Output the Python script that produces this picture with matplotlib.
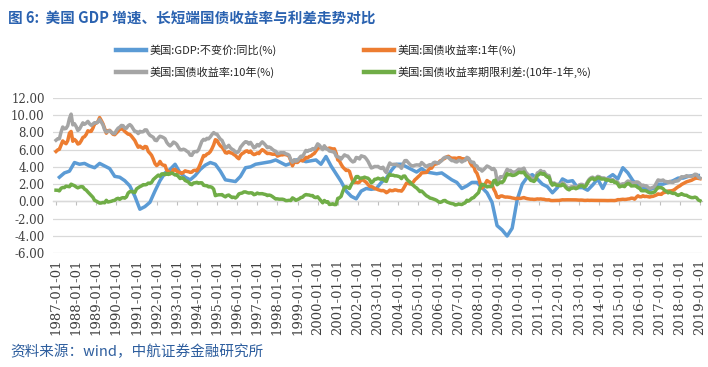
import matplotlib
matplotlib.use("Agg")
import matplotlib.pyplot as plt
import numpy as np
from matplotlib.lines import Line2D
from matplotlib.ticker import FuncFormatter

plt.rcParams["font.family"] = ["DejaVu Serif"]

# ---------------- data ----------------
years = list(range(1987, 2020))
tick_labels = [f"{y}-01-01" for y in years]

# US real GDP YoY (%), quarterly, plotted at quarter-end months (Mar 1987 ... Dec 2018)
gdp_yoy = [
    2.8, 3.3, 3.5, 4.5,   4.3, 4.4, 4.1, 3.9,   4.4, 4.1, 3.8, 2.9,   2.8, 2.4, 1.8, 0.6,
    -0.9, -0.6, -0.1, 1.2, 2.4, 3.3, 3.7, 4.3,  3.3, 2.8, 2.5, 3.0,   3.7, 4.2, 4.5, 4.3,
    3.5, 2.5, 2.4, 2.3,   2.9, 3.9, 4.0, 4.3,   4.4, 4.5, 4.6, 4.8,   4.5, 4.2, 4.4, 4.8,
    4.8, 4.6, 4.7, 4.8,   4.3, 5.2, 4.1, 3.2,   2.3, 1.2, 0.6, 0.3,   1.2, 1.5, 1.4, 1.5,
    2.2, 2.7, 3.6, 4.3,   4.3, 4.0, 3.7, 3.4,   3.8, 3.4, 3.3, 3.2,   3.3, 2.9, 2.5, 2.2,
    1.5, 1.8, 2.2, 2.2,   1.6, 1.0, -0.1, -2.8, -3.3, -4.0, -3.1, 0.2, 2.0, 2.8, 3.1, 2.6,
    2.0, 1.7, 1.0, 1.6,   2.6, 2.3, 2.4, 1.6,   1.6, 1.3, 1.9, 2.6,   1.5, 2.7, 3.1, 2.6,
    3.9, 3.3, 2.4, 1.9,   1.6, 1.3, 1.5, 2.0,   2.0, 2.2, 2.4, 2.7,   2.7, 2.9, 3.0, 3.0,
]

# US Treasury 1Y yield (%), monthly Jan 1987 ... Jan 2019
ust_1y = [
    5.78, 5.96, 6.03, 6.50, 7.00, 6.80, 6.68, 7.03, 7.90, 8.10, 6.96, 7.17,
    6.99, 6.64, 6.71, 7.01, 7.40, 7.49, 7.75, 8.17, 8.09, 8.11, 8.48, 8.99,
    9.05, 9.25, 9.70, 9.36, 8.98, 8.44, 7.89, 8.18, 8.22, 7.99, 7.77, 7.72,
    7.92, 8.11, 8.35, 8.40, 8.32, 8.10, 7.94, 7.78, 7.76, 7.55, 7.31, 7.05,
    6.64, 6.27, 6.40, 6.24, 6.13, 6.36, 6.31, 5.78, 5.57, 5.33, 4.89, 4.38,
    4.15, 4.29, 4.63, 4.30, 4.19, 4.17, 3.60, 3.47, 3.18, 3.30, 3.68, 3.71,
    3.50, 3.39, 3.33, 3.24, 3.36, 3.54, 3.47, 3.44, 3.36, 3.39, 3.58, 3.61,
    3.54, 3.87, 4.32, 4.82, 5.31, 5.27, 5.48, 5.56, 5.76, 6.11, 6.54, 7.14,
    7.05, 6.70, 6.43, 6.27, 6.00, 5.64, 5.59, 5.75, 5.62, 5.59, 5.43, 5.31,
    5.09, 4.94, 5.34, 5.54, 5.64, 5.81, 5.85, 5.67, 5.83, 5.55, 5.42, 5.47,
    5.61, 5.53, 5.80, 5.99, 5.87, 5.69, 5.54, 5.56, 5.52, 5.46, 5.46, 5.53,
    5.24, 5.31, 5.39, 5.38, 5.44, 5.41, 5.36, 5.21, 4.71, 4.12, 4.53, 4.52,
    4.51, 4.70, 4.78, 4.69, 4.85, 5.10, 5.03, 5.20, 5.25, 5.43, 5.55, 5.84,
    6.12, 6.22, 6.22, 6.15, 6.33, 6.17, 6.08, 6.18, 6.13, 6.01, 6.09, 5.60,
    4.81, 4.68, 4.30, 3.98, 3.78, 3.58, 3.62, 3.47, 2.82, 2.33, 2.18, 2.22,
    2.16, 2.23, 2.57, 2.48, 2.35, 2.20, 1.96, 1.76, 1.72, 1.65, 1.49, 1.45,
    1.36, 1.30, 1.24, 1.27, 1.18, 1.01, 1.12, 1.31, 1.24, 1.25, 1.34, 1.31,
    1.24, 1.24, 1.19, 1.43, 1.78, 2.12, 2.10, 2.02, 2.12, 2.23, 2.50, 2.67,
    2.86, 3.03, 3.30, 3.32, 3.33, 3.36, 3.64, 3.87, 3.85, 4.18, 4.33, 4.35,
    4.45, 4.68, 4.77, 4.90, 5.00, 5.16, 5.22, 5.08, 4.97, 5.01, 5.01, 4.94,
    5.06, 5.05, 4.92, 4.93, 4.91, 4.96, 4.96, 4.47, 4.14, 4.10, 3.50, 3.26,
    2.71, 2.05, 1.54, 1.74, 2.06, 2.42, 2.28, 2.18, 1.91, 1.42, 1.07, 0.49,
    0.44, 0.62, 0.64, 0.55, 0.50, 0.51, 0.48, 0.46, 0.40, 0.37, 0.31, 0.37,
    0.35, 0.35, 0.40, 0.45, 0.37, 0.32, 0.29, 0.26, 0.26, 0.23, 0.25, 0.29,
    0.27, 0.29, 0.26, 0.25, 0.19, 0.18, 0.19, 0.11, 0.10, 0.11, 0.11, 0.12,
    0.12, 0.16, 0.19, 0.18, 0.19, 0.19, 0.19, 0.18, 0.18, 0.18, 0.18, 0.16,
    0.15, 0.16, 0.15, 0.12, 0.12, 0.14, 0.12, 0.13, 0.12, 0.12, 0.12, 0.13,
    0.12, 0.12, 0.13, 0.11, 0.10, 0.10, 0.11, 0.11, 0.11, 0.10, 0.13, 0.21,
    0.20, 0.22, 0.25, 0.23, 0.24, 0.28, 0.30, 0.38, 0.37, 0.26, 0.48, 0.65,
    0.54, 0.53, 0.66, 0.56, 0.59, 0.55, 0.51, 0.57, 0.59, 0.66, 0.74, 0.87,
    0.83, 0.82, 1.01, 1.04, 1.12, 1.20, 1.22, 1.23, 1.28, 1.40, 1.56, 1.70,
    1.80, 1.96, 2.06, 2.15, 2.27, 2.33, 2.39, 2.45, 2.56, 2.65, 2.70, 2.66,
    2.63,
]

# US Treasury 10Y yield (%), monthly Jan 1987 ... Jan 2019
ust_10y = [
    7.08, 7.25, 7.25, 8.02, 8.61, 8.40, 8.45, 8.76, 9.60, 10.10, 8.86, 8.99,
    8.67, 8.21, 8.37, 8.72, 9.09, 8.92, 9.06, 9.26, 8.98, 8.80, 8.96, 9.11,
    9.09, 9.17, 9.50, 9.18, 8.86, 8.28, 8.02, 8.11, 8.19, 8.01, 7.87, 7.84,
    8.21, 8.47, 8.59, 8.79, 8.76, 8.48, 8.47, 8.75, 8.89, 8.72, 8.39, 8.08,
    8.09, 7.85, 8.11, 8.04, 8.07, 8.28, 8.27, 7.90, 7.65, 7.53, 7.42, 7.09,
    7.03, 7.34, 7.54, 7.48, 7.39, 7.26, 6.84, 6.59, 6.42, 6.59, 6.87, 6.77,
    6.60, 6.26, 5.98, 5.97, 6.04, 5.96, 5.81, 5.68, 5.36, 5.33, 5.72, 5.77,
    5.75, 5.97, 6.48, 6.97, 7.18, 7.10, 7.30, 7.24, 7.46, 7.74, 7.96, 7.81,
    7.78, 7.47, 7.20, 7.06, 6.63, 6.17, 6.28, 6.49, 6.20, 6.04, 5.93, 5.71,
    5.65, 5.81, 6.27, 6.51, 6.74, 6.91, 6.87, 6.64, 6.83, 6.53, 6.20, 6.30,
    6.58, 6.42, 6.69, 6.89, 6.71, 6.49, 6.22, 6.30, 6.21, 6.03, 5.88, 5.81,
    5.54, 5.57, 5.65, 5.64, 5.65, 5.50, 5.46, 5.34, 4.81, 4.53, 4.83, 4.65,
    4.72, 5.00, 5.23, 5.18, 5.54, 5.90, 5.79, 5.94, 5.92, 6.11, 6.03, 6.28,
    6.66, 6.52, 6.26, 5.99, 6.44, 6.10, 6.05, 5.83, 5.80, 5.74, 5.72, 5.24,
    5.16, 5.10, 4.89, 5.14, 5.39, 5.28, 5.24, 4.97, 4.73, 4.57, 4.65, 5.09,
    5.04, 4.91, 5.28, 5.21, 5.16, 4.93, 4.65, 4.26, 3.87, 3.94, 4.05, 4.03,
    4.05, 3.90, 3.81, 3.96, 3.57, 3.33, 3.98, 4.45, 4.27, 4.29, 4.30, 4.27,
    4.15, 4.08, 3.83, 4.35, 4.72, 4.73, 4.50, 4.28, 4.13, 4.10, 4.19, 4.23,
    4.22, 4.17, 4.50, 4.34, 4.14, 4.00, 4.18, 4.26, 4.20, 4.46, 4.54, 4.47,
    4.42, 4.57, 4.72, 4.99, 5.11, 5.11, 5.09, 4.88, 4.72, 4.73, 4.60, 4.56,
    4.76, 4.72, 4.56, 4.69, 4.75, 5.10, 5.00, 4.67, 4.52, 4.53, 4.15, 4.10,
    3.74, 3.74, 3.51, 3.68, 3.88, 4.10, 4.01, 3.89, 3.69, 3.81, 3.53, 2.42,
    2.52, 2.87, 2.82, 2.93, 3.29, 3.72, 3.56, 3.59, 3.40, 3.39, 3.40, 3.59,
    3.73, 3.69, 3.73, 3.85, 3.42, 3.20, 3.01, 2.70, 2.65, 2.54, 2.76, 3.29,
    3.39, 3.58, 3.41, 3.46, 3.17, 3.00, 3.00, 2.30, 1.98, 2.15, 2.01, 1.98,
    1.97, 1.97, 2.17, 2.05, 1.80, 1.62, 1.53, 1.68, 1.72, 1.75, 1.65, 1.72,
    1.91, 1.98, 1.96, 1.76, 1.93, 2.30, 2.58, 2.74, 2.81, 2.62, 2.72, 2.90,
    2.86, 2.71, 2.72, 2.71, 2.56, 2.60, 2.54, 2.42, 2.53, 2.30, 2.33, 2.21,
    1.88, 1.98, 2.04, 1.94, 2.20, 2.36, 2.32, 2.17, 2.17, 2.07, 2.26, 2.24,
    2.09, 1.78, 1.89, 1.81, 1.81, 1.64, 1.50, 1.56, 1.63, 1.76, 2.14, 2.49,
    2.43, 2.42, 2.48, 2.30, 2.30, 2.19, 2.32, 2.21, 2.20, 2.36, 2.35, 2.40,
    2.58, 2.86, 2.84, 2.87, 2.98, 2.91, 2.89, 2.89, 3.00, 3.15, 3.12, 2.83,
    2.71,
]

# term spread as defined in the legend: 10Y - 1Y
spread = np.round(np.array(ust_10y) - np.array(ust_1y), 2)

labels = ["美国:GDP:不变价:同比(%)", "美国:国债收益率:1年(%)",
          "美国:国债收益率:10年(%)", "美国:国债收益率期限利差:(10年-1年,%)"]
colors = ["#5B9BD5", "#ED7D31", "#A5A5A5", "#70AD47"]

CJK = ["Noto Sans CJK SC", "DejaVu Sans"]

# ---------------- figure ----------------
W, H = 708, 367
fig = plt.figure(figsize=(W / 100, H / 100), dpi=100)
left, right, top, bottom = 53, 702, 97.7, 253.3
ax = fig.add_axes([left / W, 1 - bottom / H, (right - left) / W, (bottom - top) / H])

n = len(ust_10y)
xm = np.arange(n)
xq = np.arange(2, n, 3)[:len(gdp_yoy)]

lw = 2.5
ax.plot(xq, gdp_yoy, color=colors[0], lw=lw, solid_joinstyle="round", zorder=3)
ax.plot(xm, ust_1y, color=colors[1], lw=lw, solid_joinstyle="round", zorder=4)
ax.plot(xm, ust_10y, color=colors[2], lw=lw, solid_joinstyle="round", zorder=5)
ax.plot(xm, spread, color=colors[3], lw=lw, solid_joinstyle="round", zorder=6)

ax.set_ylim(-6, 12)
ax.set_xlim(-1.8, 385.2)
ax.set_yticks(np.arange(-6, 13, 2))
ax.yaxis.set_major_formatter(FuncFormatter(lambda v, p: f"{v:.2f}"))
ax.yaxis.grid(True, color="#D9D9D9", lw=0.9, zorder=0)
ax.set_axisbelow(True)
for s in ax.spines.values():
    s.set_visible(False)

ticks = np.arange(0, n, 12)
ax.set_xticks(ticks)
ax.set_xticklabels(tick_labels, rotation=90, va="top", ha="center")
ax.tick_params(axis="x", length=0, pad=4, labelsize=9.5, labelcolor="#404040")
ax.tick_params(axis="y", length=0, pad=6, labelsize=8.5, labelcolor="#404040")

# horizontal axis line crossing at zero with small tick marks
sec = ax.secondary_xaxis(6 / 18)
sec.set_xticks(ticks)
sec.tick_params(axis="x", length=3, width=0.8, color="#BFBFBF", labelbottom=False)
sec.spines["bottom"].set_color("#BFBFBF")
sec.spines["bottom"].set_linewidth(0.9)

# legends
handles = [Line2D([], [], color=c, lw=3.2) for c in colors]
lp = dict(frameon=False, prop={"family": CJK, "size": 8}, handlelength=2.7,
          handletextpad=0.35, labelspacing=0.95, borderpad=0, borderaxespad=0,
          loc="upper left", labelcolor="#262626")
fig.legend([handles[0], handles[2]], [labels[0], labels[2]],
           bbox_to_anchor=(116 / W, 1 - 44 / H), **lp)
fig.legend([handles[1], handles[3]], [labels[1], labels[3]],
           bbox_to_anchor=(364 / W, 1 - 44 / H), **lp)

# title and source
fig.text(8 / W, 1 - 18 / H, "图 6:  美国 GDP 增速、长短端国债收益率与利差走势对比",
         family=CJK, fontsize=10.5, fontweight="bold", color="#2A62B0", va="center", ha="left")
fig.text(10 / W, 1 - 352 / H, "资料来源：wind，中航证券金融研究所",
         family=CJK, fontsize=10.5, fontstyle="italic", color="#2E5E9E", va="center", ha="left")

fig.savefig("out.png", dpi=100)
